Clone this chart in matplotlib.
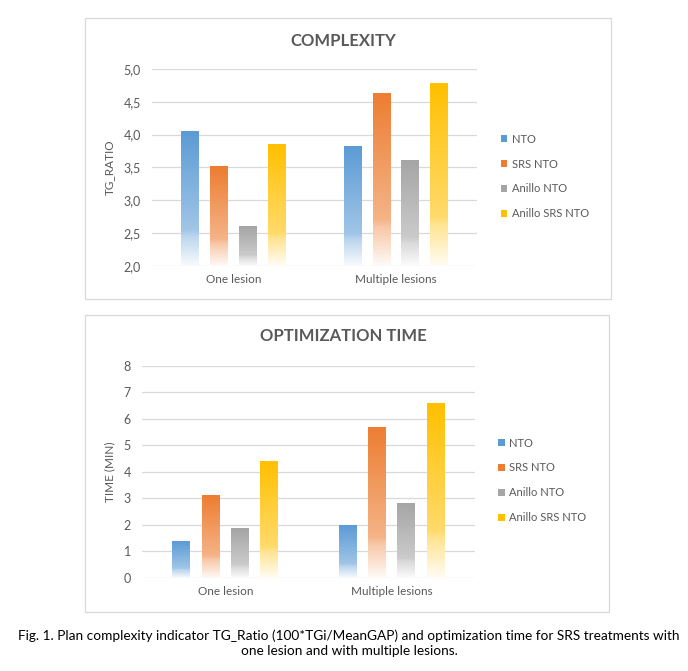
import numpy as np
import matplotlib
matplotlib.use('Agg')
import matplotlib.pyplot as plt
from matplotlib.colors import LinearSegmentedColormap, to_rgb
from matplotlib.patches import Rectangle
from matplotlib.ticker import FuncFormatter, MultipleLocator

plt.rcParams['font.family'] = ['Lato', 'DejaVu Sans']

groups = ['One lesion', 'Multiple lesions']
series = ['NTO', 'SRS NTO', 'Anillo NTO', 'Anillo SRS NTO']
colors = ['#5B9BD5', '#ED7D31', '#A5A5A5', '#FFC000']

# TG_Ratio per serie: [One lesion, Multiple lesions]
tg_ratio = {
    'NTO': [4.05, 3.82],
    'SRS NTO': [3.52, 4.63],
    'Anillo NTO': [2.60, 3.61],
    'Anillo SRS NTO': [3.85, 4.78],
}
# tiempo de optimizacion (min)
opt_time = {
    'NTO': [1.38, 1.98],
    'SRS NTO': [3.12, 5.70],
    'Anillo NTO': [1.88, 2.82],
    'Anillo SRS NTO': [4.40, 6.60],
}

caption = ("Fig. 1. Plan complexity indicator TG_Ratio (100*TGi/MeanGAP) and optimization time for SRS treatments with\n"
           "one lesion and with multiple lesions.")

TXT = '#595959'
GRID = '#D9D9D9'
W, H = 688, 671


def grad_cmap(c):
    # degradado tipo Excel: color arriba, blanco abajo
    rgb = np.array(to_rgb(c))
    white = np.ones(3)
    mix = lambda a: tuple(rgb * (1 - a) + white * a)
    stops = [(0.0, mix(0.96)), (0.22, mix(0.58)), (0.27, mix(0.42)), (1.0, mix(0.0))]
    return LinearSegmentedColormap.from_list('g', stops)


def draw_bars(ax, data, base):
    x = np.arange(len(groups))
    bw = 0.108
    step = 0.177
    offs = (np.arange(len(series)) - 1.5) * step
    grad = np.linspace(1, 0, 256).reshape(-1, 1)
    for k, name in enumerate(series):
        vals = np.array(data[name]) - base
        bars = ax.bar(x + offs[k], vals, bw, bottom=base, color='none', edgecolor='none', zorder=3)
        for b in bars:
            bx, by = b.get_x(), b.get_y()
            im = ax.imshow(grad, cmap=grad_cmap(colors[k]), vmin=0, vmax=1, aspect='auto',
                           extent=[bx, bx + b.get_width(), by, by + b.get_height()],
                           zorder=3, interpolation='bilinear')
            im.set_clip_path(b)
    ax.set_xlim(-0.5, len(groups) - 0.5)
    ax.set_xticks(x)
    ax.set_xticklabels(groups)


def style_axes(ax, title, ylabel):
    for s in ax.spines.values():
        s.set_visible(False)
    ax.yaxis.grid(True, color=GRID, linewidth=0.9, zorder=0)
    ax.set_axisbelow(True)
    ax.tick_params(axis='both', length=0, labelcolor=TXT)
    ax.tick_params(axis='y', pad=8, labelsize=9)
    ax.tick_params(axis='x', pad=6, labelsize=8.5)
    ax.set_ylabel(ylabel, fontsize=8.5, color=TXT, labelpad=6)


def add_legend(fig, x, y):
    handles = [Rectangle((0, 0), 1, 1, facecolor=c, edgecolor='none') for c in colors]
    leg = fig.legend(handles, series, loc='center left', bbox_to_anchor=(x, y),
                     bbox_transform=fig.transFigure, frameon=False, fontsize=8,
                     handlelength=0.6, handleheight=0.6, handletextpad=0.4,
                     labelspacing=1.25, borderpad=0, borderaxespad=0)
    for t in leg.get_texts():
        t.set_color(TXT)


fig = plt.figure(figsize=(W / 100, H / 100), dpi=100)
fig.patch.set_facecolor('white')

# marcos de los dos graficos
for (x0, y0, x1, y1) in [(85, 18, 611, 299), (85, 315, 609, 612)]:
    fig.patches.append(Rectangle((x0 / W, 1 - y1 / H), (x1 - x0) / W, (y1 - y0) / H,
                                 transform=fig.transFigure, facecolor='none',
                                 edgecolor=GRID, linewidth=0.9))

# --- COMPLEXITY ---
ax1 = fig.add_axes([152 / W, 1 - 265.7 / H, 325 / W, 196.7 / H])
draw_bars(ax1, tg_ratio, 2.0)
ax1.set_ylim(2.0, 5.0)
ax1.yaxis.set_major_locator(MultipleLocator(0.5))
ax1.yaxis.set_major_formatter(FuncFormatter(lambda v, p: ('%.1f' % v).replace('.', ',')))
style_axes(ax1, 'COMPLEXITY', 'TG_RATIO')
fig.text(343 / W, 1 - 41 / H, 'COMPLEXITY', ha='center', va='center',
         fontsize=12, fontweight='bold', color=TXT)
add_legend(fig, 500.7 / W, 1 - 176.5 / H)

# --- OPTIMIZATION TIME ---
ax2 = fig.add_axes([142 / W, 1 - 577.7 / H, 333 / W, 212 / H])
draw_bars(ax2, opt_time, 0.0)
ax2.set_ylim(0, 8)
ax2.yaxis.set_major_locator(MultipleLocator(1))
style_axes(ax2, 'OPTIMIZATION TIME', 'TIME (MIN)')
fig.text(343 / W, 1 - 336 / H, 'OPTIMIZATION TIME', ha='center', va='center',
         fontsize=12, fontweight='bold', color=TXT)
add_legend(fig, 498 / W, 1 - 480.4 / H)

fig.text(349 / W, 1 - 643 / H, caption, ha='center', va='center', fontsize=9.8,
         color='black', linespacing=1.3)

fig.savefig('out.png', dpi=100)
